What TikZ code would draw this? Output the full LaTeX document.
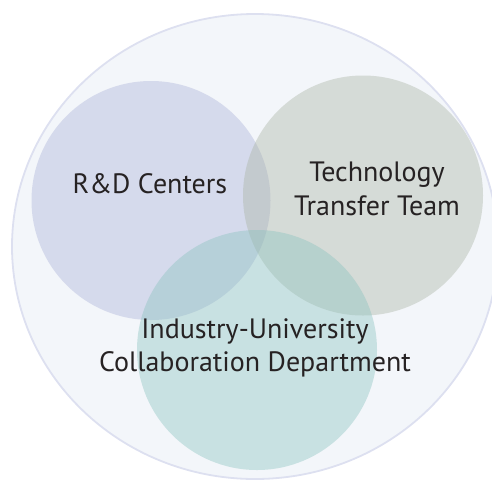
\documentclass[tikz,border=0pt]{standalone}
\usepackage{fontspec}
\setmainfont{PT Sans}
\definecolor{bgfill}{RGB}{243,246,250}
\definecolor{bgline}{RGB}{221,224,240}
\definecolor{rdcol}{RGB}{170,176,215}
\definecolor{ttcol}{RGB}{170,179,163}
\definecolor{iucol}{RGB}{137,194,190}
\definecolor{txt}{RGB}{38,34,35}
\begin{document}
\begin{tikzpicture}[x=1pt,y=-1pt,
  blob/.style={fill opacity=0.4},
  lbl/.style={text=txt,font=\fontsize{28}{33.3}\selectfont,align=center,inner sep=0pt,anchor=base}]
\useasboundingbox (0,0) rectangle (492,480);
\begin{scope}
\clip (0,0) rectangle (492,480);
\draw[fill=bgfill,draw=bgline,line width=1.8pt] (255,246.5) ellipse [x radius=243, y radius=232.5];
\end{scope}
\fill[blob,rdcol] (151,200.5) circle [radius=119.5];
\fill[blob,ttcol] (363,195.5) circle [radius=120];
\fill[blob,iucol] (257,350) circle [radius=120];
\node[lbl] (rd) at (150,193.3) {R\&D Centers};
\node[lbl] (tt) at (377,215) {Technology\\Transfer Team};
\node[lbl] (iu) at (255,371.7) {Industry-University\\Collaboration Department};
\end{tikzpicture}
\end{document}
